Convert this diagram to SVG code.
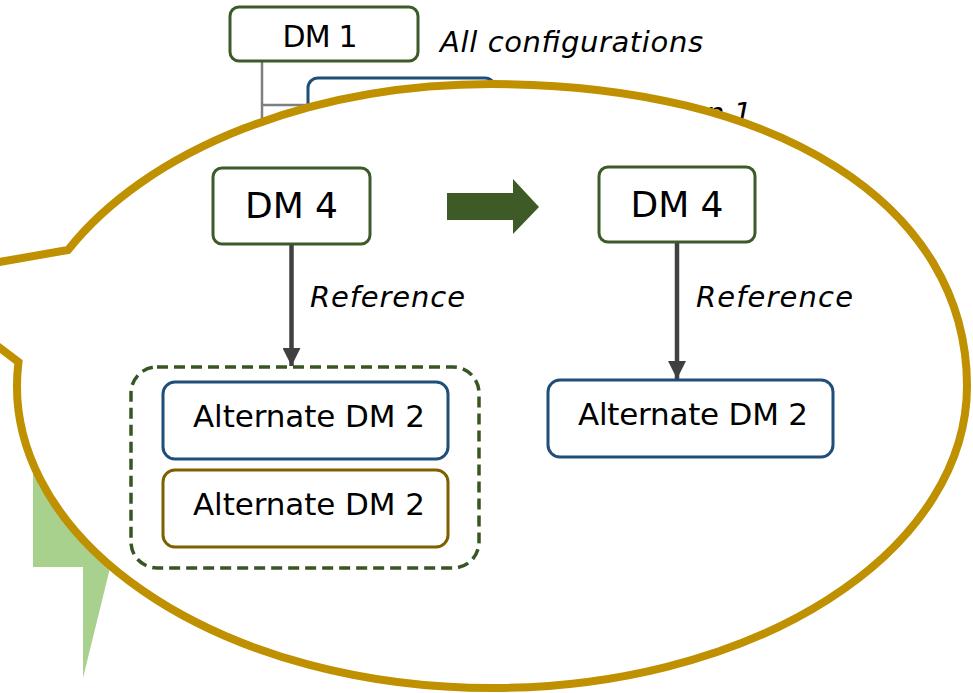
<svg xmlns="http://www.w3.org/2000/svg" width="973" height="693" viewBox="0 0 973 693">
<defs>
<style>
.t{font-family:"DejaVu Sans","Liberation Sans",sans-serif;fill:#000}
.i{font-style:italic}
.g{fill:#fff;stroke:#3d5a27;stroke-width:3}
.b{fill:#fff;stroke:#1f4e79;stroke-width:3}
.br{fill:#fff;stroke:#7f6000;stroke-width:3}
.ln{stroke:#404040;stroke-width:4.5;fill:none}
</style>
<marker id="ah" markerUnits="userSpaceOnUse" markerWidth="20" markerHeight="18" refX="18" refY="9" orient="auto">
<path d="M0,0 L18,9 L0,18 Z" fill="#404040"/>
</marker>
</defs>
<rect width="973" height="693" fill="#fff"/>

<g id="background">
<line x1="262" y1="61" x2="262" y2="200" stroke="#7f7f7f" stroke-width="2.5"/>
<line x1="262" y1="105" x2="310" y2="105" stroke="#7f7f7f" stroke-width="2.5"/>
<g id="dm1">
<rect x="230" y="7" width="188" height="54" rx="9" class="g"/>
<text x="320" y="47" class="t" font-size="30" text-anchor="middle" textLength="75">DM 1</text>
</g>
<text x="440" y="52" class="t i" font-size="29" textLength="263">All configurations</text>
<g id="config1">
<rect x="308" y="78" width="187" height="80" rx="10" class="b"/>
</g>
<text x="752" y="123" class="t i" font-size="29" text-anchor="end">n 1</text>
<polygon points="33,420 250,420 250,560 112,560 83,678 83,567 33,567" fill="#a9d18e"/>
</g>

<g id="callout">
<path d="M68,250 L-92,278 L18.5,362 A475,302 0 0 0 492,688 A475,302 0 0 0 967,386 C967,204.8 777,84 492,84 A475,302 0 0 0 68,250 Z" fill="#fff" stroke="#bf9000" stroke-width="8" stroke-linejoin="miter"/>
</g>

<g id="connectors">
<line x1="291.5" y1="244" x2="291.5" y2="366" class="ln" marker-end="url(#ah)"/>
<line x1="677" y1="242" x2="677" y2="379" class="ln" marker-end="url(#ah)"/>
<polygon points="447,193 513,193 513,179 539,207 513,234 513,220 447,220" fill="#3d5a27"/>
</g>

<g id="dm4-left">
<rect x="213" y="168" width="157" height="76" rx="9" class="g"/>
<text x="291.5" y="218" class="t" font-size="36" text-anchor="middle" textLength="93">DM 4</text>
</g>
<text x="310" y="307" class="t i" font-size="29" textLength="155">Reference</text>

<g id="group-left">
<rect x="131" y="367" width="348" height="201" rx="26" fill="none" stroke="#375623" stroke-width="3.5" stroke-dasharray="11 6"/>
</g>
<g id="alt-blue-left">
<rect x="163" y="382" width="285" height="77" rx="12" class="b"/>
<text x="193" y="427" class="t" font-size="31" textLength="232">Alternate DM 2</text>
</g>
<g id="alt-brown-left">
<rect x="163" y="470" width="285" height="77" rx="12" class="br"/>
<text x="193" y="515" class="t" font-size="31" textLength="232">Alternate DM 2</text>
</g>

<g id="dm4-right">
<rect x="599" y="167" width="156" height="75" rx="9" class="g"/>
<text x="677" y="217" class="t" font-size="36" text-anchor="middle" textLength="93">DM 4</text>
</g>
<text x="696" y="307" class="t i" font-size="29" textLength="157">Reference</text>

<g id="alt-blue-right">
<rect x="548" y="380" width="285" height="77" rx="12" class="b"/>
<text x="578" y="425" class="t" font-size="31" textLength="230">Alternate DM 2</text>
</g>
</svg>
